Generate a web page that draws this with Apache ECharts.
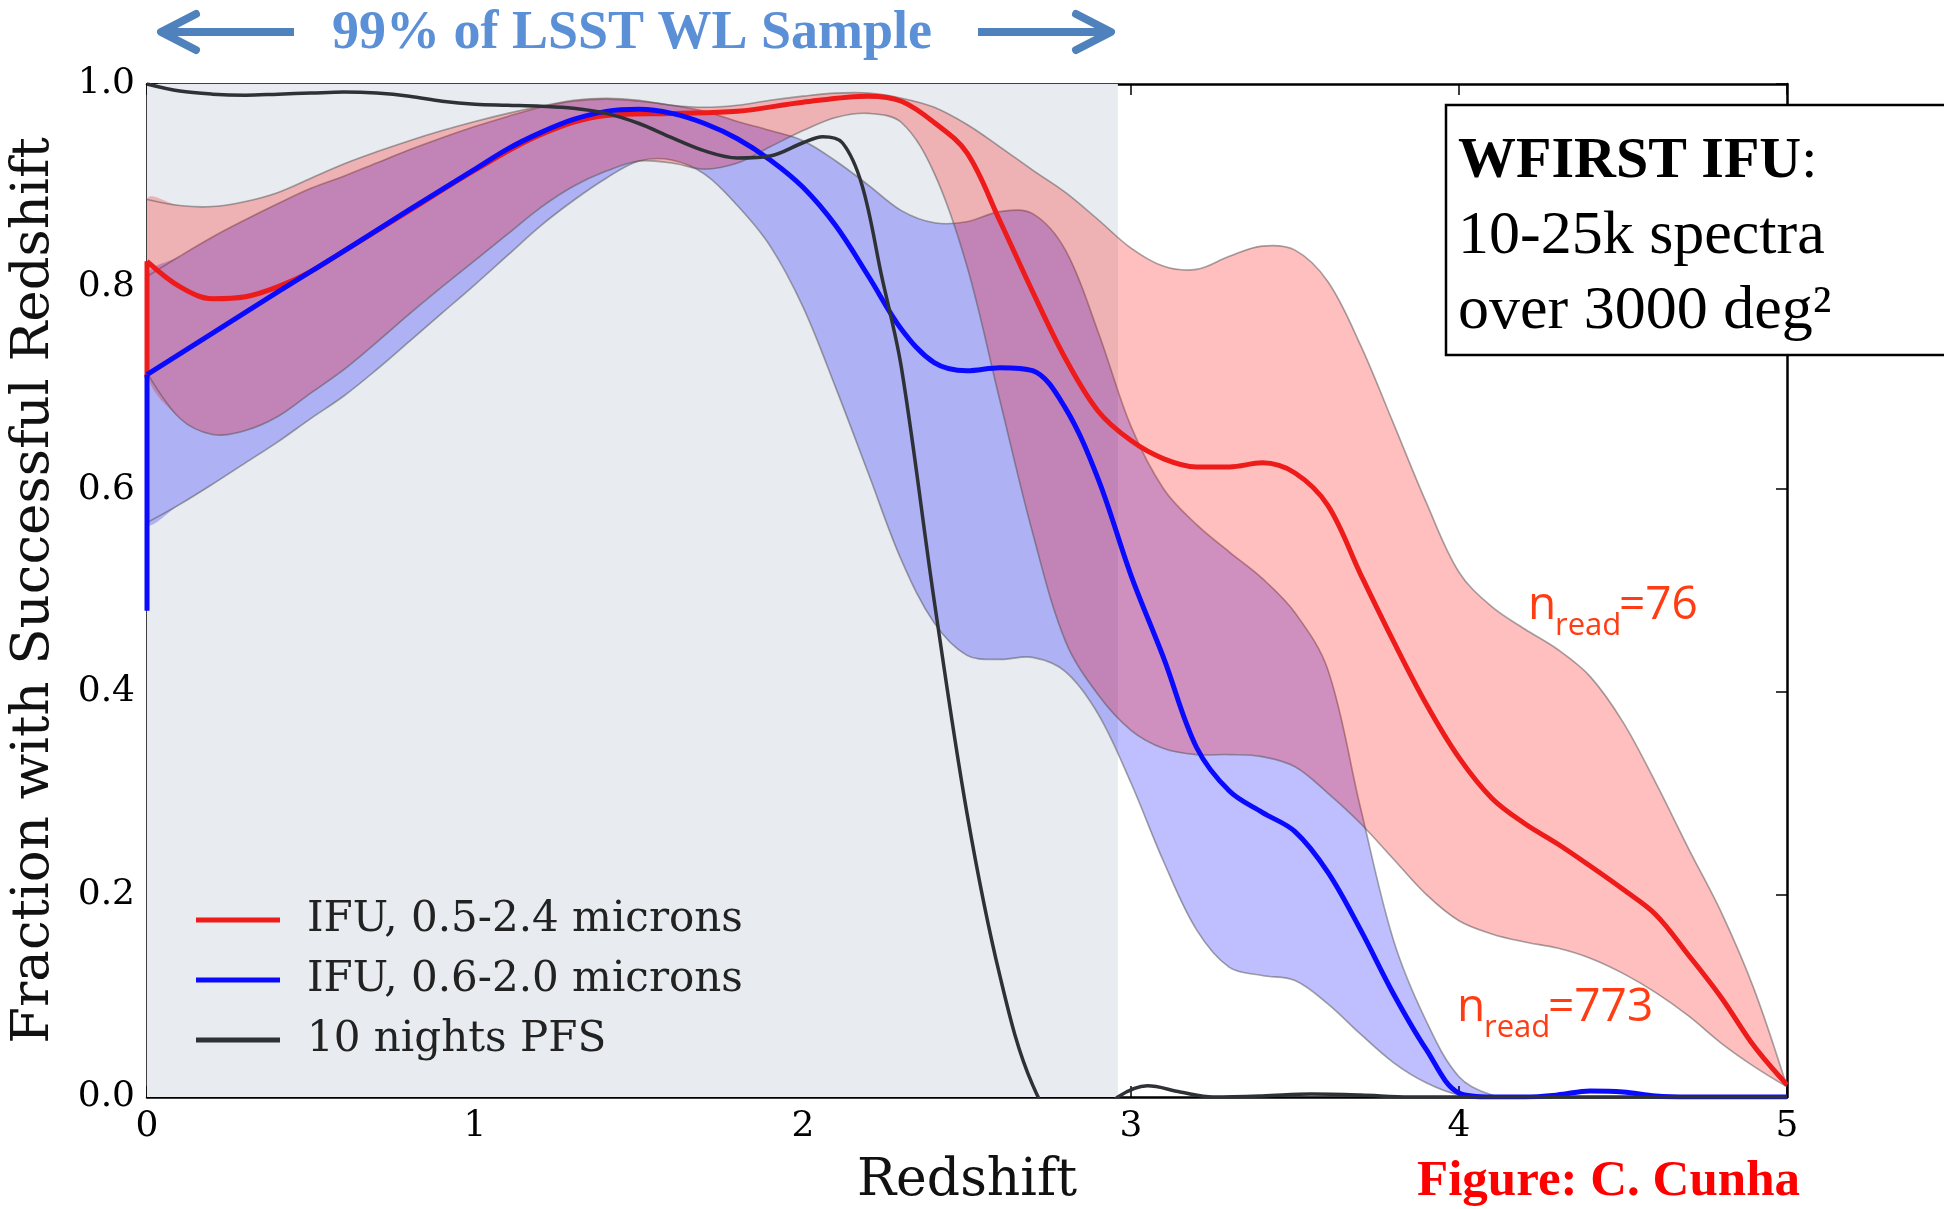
<!DOCTYPE html>
<html>
<head>
<meta charset="utf-8">
<title>Fraction with successful redshift</title>
<script src="https://cdn.jsdelivr.net/npm/echarts@6/dist/echarts.min.js"></script>
<style>
html,body{margin:0;padding:0;background:#fff;}
#main{width:1944px;height:1209px;}
</style>
</head>
<body>
<div id="main"></div>
<script>
// redshift grid shared by the two uncertainty bands
var bandZ = [0,0.1,0.2,0.3,0.4,0.5,0.6,0.7,0.8,0.9,1,1.1,1.2,1.3,1.4,1.5,1.6,1.7,1.8,1.9,
  2,2.1,2.2,2.3,2.4,2.5,2.6,2.7,2.8,2.9,3,3.1,3.2,3.3,3.4,3.5,3.6,3.7,3.8,3.9,
  4,4.1,4.2,4.3,4.4,4.5,4.6,4.7,4.8,4.9,5];

// IFU 0.5-2.4 band (upper / lower edge)
var redHigh = [0.886,0.880,0.879,0.884,0.893,0.907,0.921,0.933,0.944,0.954,
  0.963,0.971,0.978,0.984,0.986,0.984,0.979,0.977,0.979,0.984,
  0.988,0.991,0.991,0.986,0.977,0.960,0.938,0.915,0.893,0.866,
  0.838,0.820,0.817,0.830,0.840,0.836,0.805,0.742,0.665,0.587,
  0.518,0.484,0.462,0.442,0.415,0.370,0.310,0.245,0.182,0.106,0.010];
var redLow = [0.715,0.670,0.654,0.658,0.672,0.695,0.718,0.745,0.773,0.800,
  0.826,0.852,0.878,0.899,0.914,0.924,0.922,0.916,0.922,0.938,
  0.954,0.967,0.971,0.962,0.912,0.820,0.688,0.557,0.450,0.397,
  0.362,0.344,0.338,0.338,0.336,0.326,0.300,0.270,0.235,0.200,
  0.174,0.161,0.153,0.147,0.137,0.122,0.103,0.080,0.053,0.030,0.010];

// IFU 0.6-2.0 band (upper / lower edge)
var blueHigh = [0.810,0.830,0.849,0.866,0.882,0.897,0.909,0.922,0.935,0.947,
  0.958,0.968,0.977,0.983,0.985,0.983,0.979,0.973,0.963,0.954,
  0.944,0.924,0.900,0.875,0.863,0.864,0.874,0.872,0.836,0.755,
  0.662,0.600,0.565,0.538,0.512,0.478,0.422,0.285,0.155,0.075,
  0.020,0.002,0,0,0,0,0,0,0,0,0];
var blueLow = [0.567,0.585,0.605,0.626,0.647,0.670,0.692,0.718,0.746,0.774,
  0.802,0.831,0.860,0.885,0.907,0.924,0.925,0.911,0.880,0.840,
  0.780,0.700,0.615,0.530,0.468,0.436,0.432,0.434,0.420,0.378,
  0.310,0.232,0.165,0.128,0.120,0.115,0.092,0.062,0.034,0.014,
  0.002,0,0,0,0,0,0,0,0,0,0];

// central curves
var redZ = [0,0.1,0.2,0.3,0.4,0.5,0.6,0.8,1.0,1.2,1.4,1.6,1.8,2.0,2.2,2.3,2.4,2.5,2.6,2.7,2.8,2.9,
  3.0,3.1,3.2,3.3,3.4,3.5,3.6,3.7,3.8,3.9,4.0,4.1,4.2,4.3,4.4,4.5,4.6,4.7,4.8,4.9,5.0];
var redFrac = [0.825,0.80,0.788,0.79,0.80,0.815,0.835,0.875,0.915,0.95,0.969,0.971,0.973,
  0.982,0.988,0.983,0.962,0.932,0.865,0.795,0.729,0.677,
  0.648,0.630,0.622,0.622,0.626,0.616,0.584,0.516,0.45,0.388,
  0.335,0.295,0.27,0.25,0.228,0.205,0.18,0.14,0.098,0.05,0.012];
var redStart = [0.71, 0.825];    // vertical jump at z = 0

var blueZ = [0,0.2,0.4,0.6,0.8,1.0,1.1,1.2,1.3,1.4,1.5,1.6,1.7,1.8,1.9,
  2.0,2.1,2.2,2.3,2.4,2.5,2.6,2.7,2.8,2.9,3.0,3.1,3.2,3.3,3.4,3.5,3.6,3.7,3.8,3.9,
  4.0,4.1,4.2,4.3,4.4,4.5,4.6,4.7,5.0];
var blueFrac = [0.713,0.754,0.795,0.835,0.876,0.916,0.936,0.952,0.965,0.973,0.975,0.971,0.961,0.946,0.925,
  0.898,0.86,0.81,0.758,0.725,0.717,0.72,0.717,0.68,0.61,
  0.515,0.433,0.345,0.302,0.281,0.262,0.222,0.165,0.102,0.047,
  0.004,0,0,0.002,0.006,0.005,0.001,0,0];
var blueStart = [0.48, 0.713];   // vertical jump at z = 0

var pfsZ = [0,0.1,0.2,0.3,0.4,0.5,0.6,0.7,0.8,0.9,1.0,1.1,1.2,1.3,1.4,1.5,1.6,1.7,1.8,1.9,
  2.0,2.06,2.12,2.18,2.24,2.3,2.4,2.5,2.6,2.7,2.8,2.9,2.96,
  3.05,3.15,3.25,3.4,3.55,3.7,3.85,4.5,5.0];
var pfsFrac = [1.0,0.993,0.99,0.989,0.99,0.991,0.992,0.991,0.988,0.983,
  0.98,0.979,0.978,0.976,0.971,0.961,0.947,0.934,0.927,0.929,
  0.942,0.948,0.942,0.90,0.81,0.72,0.49,0.28,0.12,0.012,-0.03,-0.02,0.0,
  0.011,0.005,0.0,0.001,0.003,0.002,0.0,0.0,0.0];

var shadeRange = [0, 2.96];   // 99% of LSST WL sample
var xTicks = [0,1,2,3,4,5];
var yTicks = ['0.0','0.2','0.4','0.6','0.8','1.0'];
var seriesNames = ['IFU, 0.5-2.4 microns','IFU, 0.6-2.0 microns','10 nights PFS'];

var RED = '#ee1b1b', BLUE = '#0a0aff', GREY = '#2e3236';
var EDGE = 'rgba(80,80,80,0.5)';
var SERIF = 'DejaVu Serif';
var SMOOTH = 0.35;

function pairs(xs, ys){
    return xs.map(function(x,i){ return [x, ys[i]]; });
}

// filled band between two edges, edges drawn as thin grey lines
function band(name, hi, lo, fill){
    return {
        name:name, type:'custom', coordinateSystem:'cartesian2d', silent:true, z:2, clip:true,
        data:[[bandZ[0], lo[0]]],
        renderItem:function(params, api){
            var up = bandZ.map(function(z,i){ return api.coord([z, hi[i]]); });
            var dn = bandZ.map(function(z,i){ return api.coord([z, lo[i]]); });
            return {type:'group', children:[
                {type:'polygon', shape:{points:up.concat(dn.slice().reverse()), smooth:SMOOTH},
                    style:{fill:fill}},
                {type:'polyline', shape:{points:up, smooth:SMOOTH}, style:{stroke:EDGE, lineWidth:1.6, fill:null}},
                {type:'polyline', shape:{points:dn, smooth:SMOOTH}, style:{stroke:EDGE, lineWidth:1.6, fill:null}}
            ]};
        }
    };
}
function curve(name, xs, ys, color, width){
    return {
        name:name, type:'line', smooth:SMOOTH, symbol:'none', showSymbol:false, z:4, clip:true,
        data: pairs(xs, ys),
        lineStyle:{color:color, width:width},
        itemStyle:{color:color}
    };
}
// short vertical piece at the left edge (not in legend)
function jump(name, ys, color, width){
    return {
        name:name, type:'line', symbol:'none', z:4, clip:true, silent:true,
        data:[[0, ys[0]], [0, ys[1]]],
        lineStyle:{color:color, width:width}, itemStyle:{color:color}
    };
}

var axisLineStyle = {show:true, onZero:false, lineStyle:{color:'#000', width:2.5}};
var tickStyle = {show:true, inside:true, length:11, lineStyle:{color:'#000', width:1.5}};

var redCurve = curve(seriesNames[0], redZ, redFrac, RED, 5);
redCurve.markArea = {silent:true, itemStyle:{color:'#e8ecf0'}, z:1,
    data:[[{xAxis:shadeRange[0]},{xAxis:shadeRange[1]}]]};

var series = [
    band('blueBand', blueHigh, blueLow, 'rgba(0,0,255,0.25)'),
    band('redBand', redHigh, redLow, 'rgba(255,0,0,0.25)'),
    jump('redStart', redStart, RED, 5),
    redCurve,
    jump('blueStart', blueStart, BLUE, 5),
    curve(seriesNames[1], blueZ, blueFrac, BLUE, 5),
    curve(seriesNames[2], pfsZ, pfsFrac, GREY, 3.5)
];

var chart = echarts.init(document.getElementById('main'));
chart.setOption({
    animation:false,
    backgroundColor:'#fff',
    grid:{left:147, right:157, top:84, bottom:112, outerBoundsMode:'none'},
    xAxis:[{
        type:'value', min:0, max:5, interval:1, position:'bottom',
        axisLine:axisLineStyle, axisTick:tickStyle, splitLine:{show:false},
        axisLabel:{margin:12, fontFamily:SERIF, fontSize:36, color:'#000',
            formatter:function(v){ return xTicks.indexOf(v) >= 0 ? String(v) : ''; }},
        name:'Redshift', nameLocation:'middle', nameGap:58,
        nameTextStyle:{fontFamily:SERIF, fontSize:52, color:'#111'}
    },{
        type:'value', min:0, max:5, interval:1, position:'top',
        axisLine:axisLineStyle, axisTick:tickStyle, splitLine:{show:false}, axisLabel:{show:false}
    }],
    yAxis:[{
        type:'value', min:0, max:1, interval:0.2, position:'left',
        axisLine:axisLineStyle, axisTick:tickStyle, splitLine:{show:false},
        axisLabel:{margin:12, fontFamily:SERIF, fontSize:36, color:'#000',
            formatter:function(v){ return yTicks[Math.round(v / 0.2)]; }},
        name:'Fraction with Successful Redshift', nameLocation:'middle', nameGap:86,
        nameTextStyle:{fontFamily:SERIF, fontSize:53, color:'#111'}
    },{
        type:'value', min:0, max:1, interval:0.2, position:'right',
        axisLine:axisLineStyle, axisTick:tickStyle, splitLine:{show:false}, axisLabel:{show:false}
    }],
    legend:{
        data:seriesNames, orient:'vertical', left:196, top:897, padding:0, itemGap:14,
        itemWidth:84, itemHeight:5, icon:'rect', selectedMode:false,
        textStyle:{fontFamily:SERIF, fontSize:42, color:'#222', lineHeight:46, padding:[0,0,0,22]}
    },
    series:series,
    graphic:[
        // sample range arrows
        {type:'line', shape:{x1:294, y1:32, x2:164, y2:32}, style:{stroke:'#4f81bd', lineWidth:8}},
        {type:'polyline', shape:{points:[[196,14],[161,32],[196,50]]},
            style:{stroke:'#4f81bd', lineWidth:8, fill:null, lineCap:'round', lineJoin:'round'}},
        {type:'line', shape:{x1:978, y1:32, x2:1108, y2:32}, style:{stroke:'#4f81bd', lineWidth:8}},
        {type:'polyline', shape:{points:[[1076,14],[1111,32],[1076,50]]},
            style:{stroke:'#4f81bd', lineWidth:8, fill:null, lineCap:'round', lineJoin:'round'}},
        {type:'text', x:632, y:34, style:{text:'99% of LSST WL Sample', fontFamily:'Liberation Serif',
            fontWeight:'bold', fontSize:54, fill:'#5b8fd6', align:'center', verticalAlign:'middle'}},
        // WFIRST box
        {type:'rect', z:100, shape:{x:1446, y:105, width:560, height:250},
            style:{fill:'#fff', stroke:'#000', lineWidth:2.5}},
        {type:'text', z:101, x:1458, y:162, style:{text:'{b|WFIRST IFU}:', fontFamily:'Liberation Serif',
            fontSize:58, fill:'#000', verticalAlign:'middle',
            rich:{b:{fontFamily:'Liberation Serif', fontSize:58, fontWeight:'bold', fill:'#000'}}}},
        {type:'text', z:101, x:1458, y:237, style:{text:'10-25k spectra', fontFamily:'Liberation Serif',
            fontSize:62, fill:'#000', verticalAlign:'middle'}},
        {type:'text', z:101, x:1458, y:312, style:{text:'over 3000 deg\u00b2', fontFamily:'Liberation Serif',
            fontSize:62, fill:'#000', verticalAlign:'middle'}},
        // n_read annotations
        {type:'text', x:1528, y:606, style:{text:'n', fontFamily:'Open Sans', fontSize:46, fill:'#ff3c14', verticalAlign:'middle'}},
        {type:'text', x:1555, y:626, style:{text:'read', fontFamily:'Open Sans', fontSize:31, fill:'#ff3c14', verticalAlign:'middle'}},
        {type:'text', x:1619, y:606, style:{text:'=76', fontFamily:'Open Sans', fontSize:46, fill:'#ff3c14', verticalAlign:'middle'}},
        {type:'text', x:1457, y:1008, style:{text:'n', fontFamily:'Open Sans', fontSize:46, fill:'#ff3c14', verticalAlign:'middle'}},
        {type:'text', x:1484, y:1028, style:{text:'read', fontFamily:'Open Sans', fontSize:31, fill:'#ff3c14', verticalAlign:'middle'}},
        {type:'text', x:1548, y:1008, style:{text:'=773', fontFamily:'Open Sans', fontSize:46, fill:'#ff3c14', verticalAlign:'middle'}},
        // credit
        {type:'text', x:1417, y:1182, style:{text:'Figure: C. Cunha', fontFamily:'Liberation Serif',
            fontWeight:'bold', fontSize:51, fill:'#ff0000', verticalAlign:'middle'}}
    ]
});
</script>
</body>
</html>
